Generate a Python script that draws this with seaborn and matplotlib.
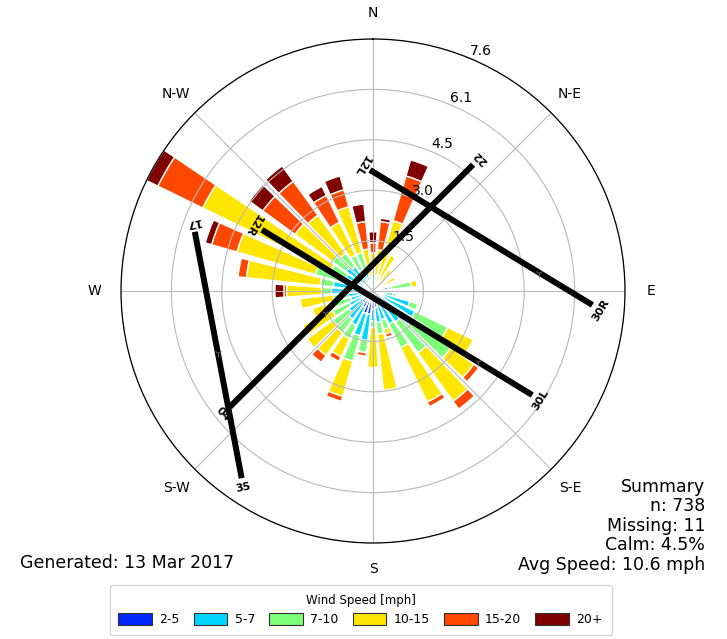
import numpy as np
import matplotlib
matplotlib.use("Agg")
import matplotlib.pyplot as plt
import matplotlib.patches as mpatches
import seaborn as sns

# wind directions (deg, compass) and frequency (%) per speed bin
directions = [0, 10, 20, 30, 40, 50, 60, 70, 80, 90, 100, 110,
              120, 130, 140, 150, 160, 170, 180, 190, 200, 210, 220, 230,
              240, 250, 260, 270, 280, 290, 300, 310, 320, 330, 340, 350]
speed_bins = ['2-5', '5-7', '7-10', '10-15', '15-20', '20+']

freq_2_5 = [0.15, 0.10, 0.10, 0.05, 0.05, 0.05, 0.05, 0.20, 0.45, 0.10, 0.15, 0.20,
            0.25, 0.30, 0.35, 0.45, 0.40, 0.50, 0.55, 0.70, 0.70, 0.55, 0.45, 0.35,
            0.25, 0.20, 0.20, 0.30, 0.30, 0.30, 0.30, 0.30, 0.25, 0.20, 0.15, 0.10]
freq_5_7 = [0.20, 0.15, 0.15, 0.10, 0.10, 0.10, 0.10, 0.10, 0.10, 0.10, 0.45, 0.95,
            1.15, 1.15, 0.80, 0.65, 0.50, 0.45, 0.35, 0.80, 0.70, 0.60, 0.60, 0.55,
            0.55, 0.50, 0.55, 0.95, 0.90, 0.70, 0.60, 0.70, 0.65, 0.50, 0.45, 0.15]
freq_7_10 = [0.25, 0.20, 0.25, 0.20, 0.15, 0.10, 0.20, 0.05, 0.60, 0.05, 0.10, 0.25,
             1.10, 1.45, 1.15, 0.80, 0.30, 0.35, 0.20, 0.35, 0.80, 0.45, 0.50, 0.60,
             0.55, 0.50, 0.45, 0.30, 0.40, 0.80, 0.50, 0.50, 0.50, 0.50, 0.60, 0.20]
freq_10_15 = [0.55, 0.80, 1.70, 0.85, 0.50, 0.20, 0.40, 0.00, 0.18, 0.00, 0.00, 0.00,
              0.85, 0.85, 1.80, 1.82, 0.15, 1.70, 1.20, 0.02, 1.10, 0.60, 0.85, 0.95,
              1.00, 0.70, 1.00, 1.05, 2.23, 2.46, 4.30, 1.40, 1.42, 1.10, 1.44, 0.82]
freq_15_20 = [0.30, 0.85, 1.40, 0.00, 0.00, 0.00, 0.00, 0.00, 0.00, 0.00, 0.00, 0.00,
              0.00, 0.18, 0.29, 0.15, 0.10, 0.00, 0.00, 0.10, 0.15, 0.15, 0.25, 0.00,
              0.00, 0.00, 0.00, 0.08, 0.25, 0.79, 1.50, 1.20, 1.26, 0.90, 0.53, 0.83]
freq_20p = [0.33, 0.10, 0.50, 0.00, 0.00, 0.00, 0.00, 0.00, 0.00, 0.00, 0.00, 0.00,
            0.00, 0.00, 0.00, 0.00, 0.00, 0.00, 0.00, 0.00, 0.00, 0.00, 0.00, 0.00,
            0.00, 0.00, 0.00, 0.27, 0.00, 0.20, 0.38, 0.50, 0.57, 0.30, 0.43, 0.53]

compass_labels = ['N', 'N-E', 'E', 'S-E', 'S', 'S-W', 'W', 'N-W']

# runways: end names and end positions (same units as the radial axis, x east / y north)
runway_a = ['12L', '12R', '22', '17']
runway_b = ['30R', '30L', '04', '35']
runway_ax = [-0.09, -3.34, 3.01, -5.36]
runway_ay = [3.64, 1.84, 3.80, 1.78]
runway_bx = [6.60, 4.79, -4.31, -3.95]
runway_by = [-0.42, -3.13, -3.49, -5.63]
runway_mark = [0.76, 0.80, 0.61, 0.49]

summary_lines = ['Summary', 'n: 738', 'Missing: 11', 'Calm: 4.5%', 'Avg Speed: 10.6 mph']
generated = 'Generated: 13 Mar 2017'

sns.set_theme(style='white')
plt.rcParams['font.family'] = ['DejaVu Sans']
plt.rcParams['text.color'] = 'black'

fig = plt.figure(figsize=(7.27, 6.39), dpi=100)
rect = [121 / 727, 96 / 639, 504 / 727, 504 / 639]
ax = fig.add_axes(rect, projection='polar')
ax.set_theta_zero_location('N')
ax.set_theta_direction(-1)

table = np.array([freq_2_5, freq_5_7, freq_7_10, freq_10_15, freq_15_20, freq_20p])
colors = plt.get_cmap('jet')(np.linspace(0, 1, 7))[1:]
theta = np.radians(directions)
width = np.radians(360 / len(directions)) * 0.8

bottom = np.zeros(len(directions))
for i, lab in enumerate(speed_bins):
    h = table[i]
    keep = h > 0
    ax.bar(theta[keep], h[keep], width=width, bottom=bottom[keep], color=colors[i],
           edgecolor='white', linewidth=1, label=lab, zorder=1)
    bottom += h

rmax = bottom.max()
ticks = np.linspace(0, rmax, 6)[1:]
ax.set_rgrids(ticks, ['%.1f' % t for t in ticks])
ax.set_ylim(0, rmax)
ax.set_xticks(np.radians(np.arange(0, 360, 45)))
ax.set_xticklabels(compass_labels)
ax.tick_params(axis='x', pad=6, labelsize=10, colors='black')
ax.tick_params(axis='y', labelsize=10, colors='black')
ax.grid(True, color='#b8b8b8', linewidth=0.8)
ax.set_axisbelow('line')
ax.spines['polar'].set_color('black')
ax.spines['polar'].set_linewidth(0.9)

# runways overlay
ax2 = fig.add_axes(rect)
ax2.set_xlim(-rmax, rmax)
ax2.set_ylim(-rmax, rmax)
ax2.axis('off')
ax2.patch.set_alpha(0)
for na, nb, xa, ya, xb, yb, fm in zip(runway_a, runway_b, runway_ax, runway_ay,
                                      runway_bx, runway_by, runway_mark):
    ax2.plot([xa, xb], [ya, yb], color='black', lw=4.3, solid_capstyle='butt', zorder=3)
    ang = np.degrees(np.arctan2(yb - ya, xb - xa))
    ux, uy = np.cos(np.radians(ang)), np.sin(np.radians(ang))
    off = 0.3
    ax2.text(xa - ux * off, ya - uy * off, na, rotation=ang - 90, rotation_mode='anchor',
             ha='center', va='center', fontsize=8, fontweight='bold', color='black', zorder=4)
    ax2.text(xb + ux * off, yb + uy * off, nb, rotation=ang + 90, rotation_mode='anchor',
             ha='center', va='center', fontsize=8, fontweight='bold', color='black', zorder=4)
    mx, my = xa + (xb - xa) * fm, ya + (yb - ya) * fm
    ax2.plot(mx, my, marker='1', ms=6, mew=0.8, color='0.35', zorder=5)

handles = [mpatches.Patch(facecolor=c, edgecolor='0.2', linewidth=0.8, label=l)
           for c, l in zip(colors, speed_bins)]
fig.legend(handles=handles, title='Wind Speed [mph]', loc='center',
           bbox_to_anchor=(0.496, 0.045), ncol=6, fontsize=9, title_fontsize=8.5,
           handlelength=2.7, handleheight=1.0, columnspacing=1.1, handletextpad=0.6,
           borderpad=0.7, frameon=True)

# summary block, one right-aligned line each
line_step = 19.5 / 639
for k, line in enumerate(reversed(summary_lines)):
    fig.text(0.970, 0.108 + k * line_step, line, ha='right', va='baseline', fontsize=12.5)
fig.text(0.0275, 0.111, generated, ha='left', va='baseline', fontsize=12.5)

fig.savefig('out.png', dpi=100)
